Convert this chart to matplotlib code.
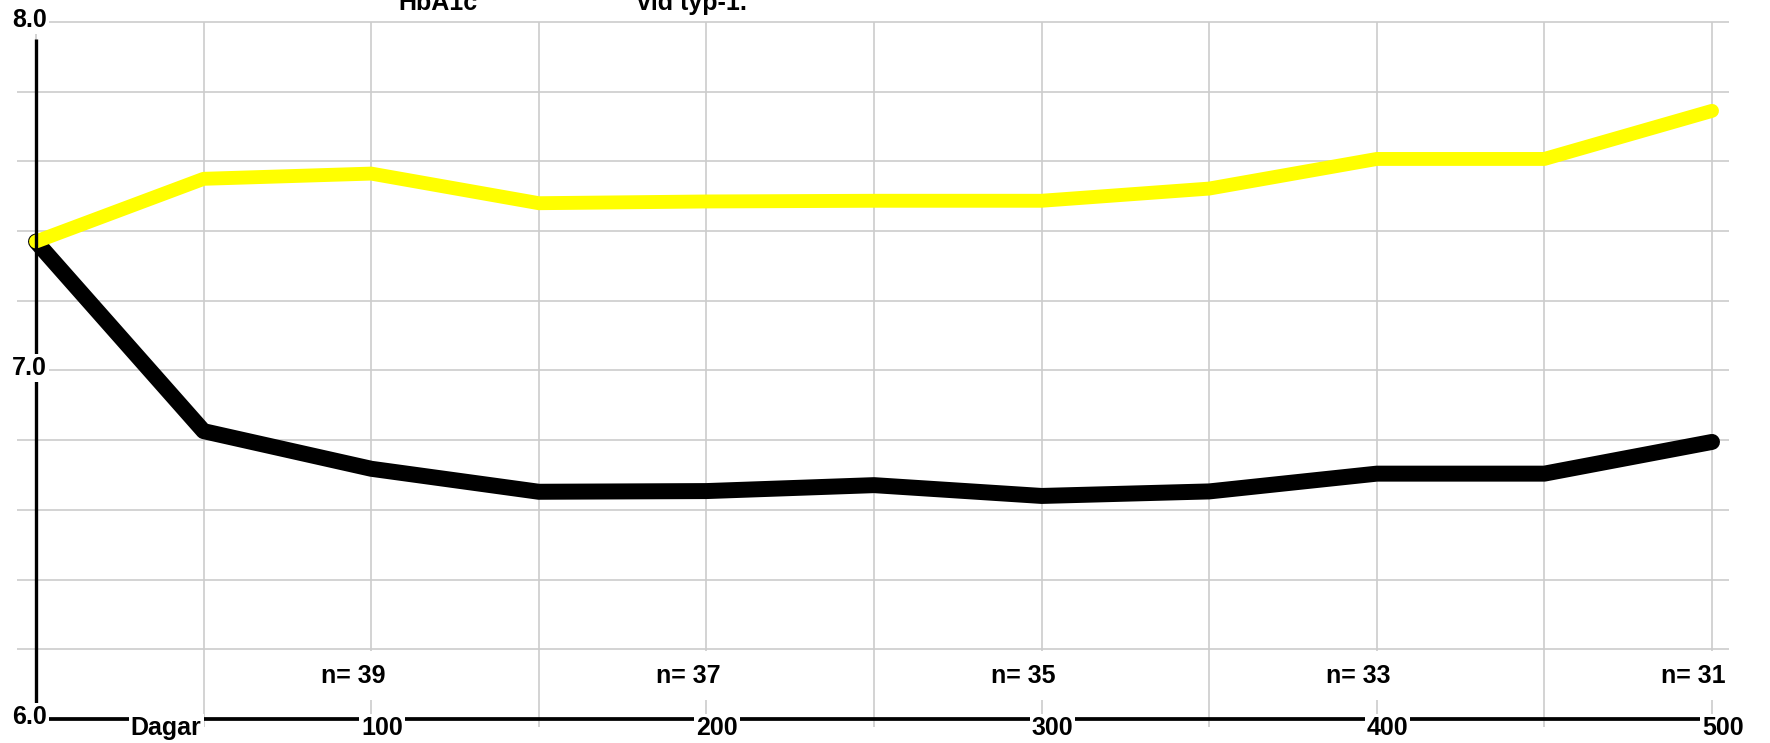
import matplotlib
matplotlib.use("Agg")
import matplotlib.pyplot as plt
import numpy as np

# Data
days = [0, 50, 100, 150, 200, 250, 300, 350, 400, 450, 500]
hba1c_yellow = [7.37, 7.55, 7.565, 7.48, 7.485, 7.487, 7.487, 7.522, 7.607, 7.607, 7.745]
hba1c_black = [7.37, 6.826, 6.718, 6.652, 6.654, 6.671, 6.64, 6.653, 6.704, 6.704, 6.795]

x_ticks = [100, 200, 300, 400, 500]
y_ticks = [6.0, 7.0, 8.0]
y_grid = np.round(np.arange(6.0, 8.01, 0.2), 1)
x_grid = np.arange(0, 501, 50)
n_pos = [100, 200, 300, 400, 500]
n_labels = ["n= 39", "n= 37", "n= 35", "n= 33", "n= 31"]

plt.rcParams["font.family"] = ["Liberation Sans", "DejaVu Sans"]
FS = 18

fig = plt.figure(figsize=(17.7, 7.43), dpi=100)
ax = fig.add_axes([0, 0, 1, 1])
ax.set_xlim(-10.74, 517.3)
ax.set_ylim(5.9311, 8.0631)
ax.axis("off")

grid_kw = dict(color="#cccccc", linewidth=1.2, zorder=1)
ax.hlines(y_grid, -5.7, 505, **grid_kw)
ax.vlines(x_grid, 5.977, 8.0, **grid_kw)

# lines
ax.plot(days, hba1c_black, color="black", linewidth=11.5,
        solid_joinstyle="round", solid_capstyle="round", zorder=3)
ax.plot(days, hba1c_yellow, color="#ffff00", linewidth=10,
        solid_joinstyle="round", solid_capstyle="round", zorder=3.5)

# axis lines
ax.plot([0, 0], [6.0, 7.951], color="black", linewidth=2.4, zorder=4,
        solid_capstyle="butt")
ax.plot([0, 509.8], [6.0, 6.0], color="black", linewidth=2.7, zorder=4,
        solid_capstyle="butt")

box = dict(facecolor="white", edgecolor="none", pad=1.5)
txt = dict(fontsize=FS, fontweight="bold", color="black", zorder=5,
           textcoords="offset pixels", va="baseline")

for yv in y_ticks:
    ax.annotate(f"{yv:.1f}", xy=(0, yv), xytext=(-24, -5), ha="left",
                bbox=box, **txt)

for xv in x_ticks:
    ax.annotate(f"{xv}", xy=(xv, 6.0), xytext=(-10, -16), ha="left",
                bbox=box, **txt)
ax.annotate("Dagar", xy=(50, 6.0), xytext=(-2, -16), ha="right",
            bbox=box, **txt)

nbox = dict(facecolor="white", edgecolor="none", pad=9)
for xv, lab in zip(n_pos, n_labels):
    ax.annotate(lab, xy=(xv, 6.0), xytext=(14, 36), ha="right",
                bbox=nbox, **txt)

# title, cut at the top edge as in the source image
fig.text(398 / 1770, 1 - 10 / 743, "HbA1c", fontsize=FS, fontweight="bold",
         ha="left", va="baseline")
fig.text(637 / 1770, 1 - 10 / 743, "vid typ-1.", fontsize=FS, fontweight="bold",
         ha="left", va="baseline")

fig.savefig("out.png", dpi=100, facecolor="white")
